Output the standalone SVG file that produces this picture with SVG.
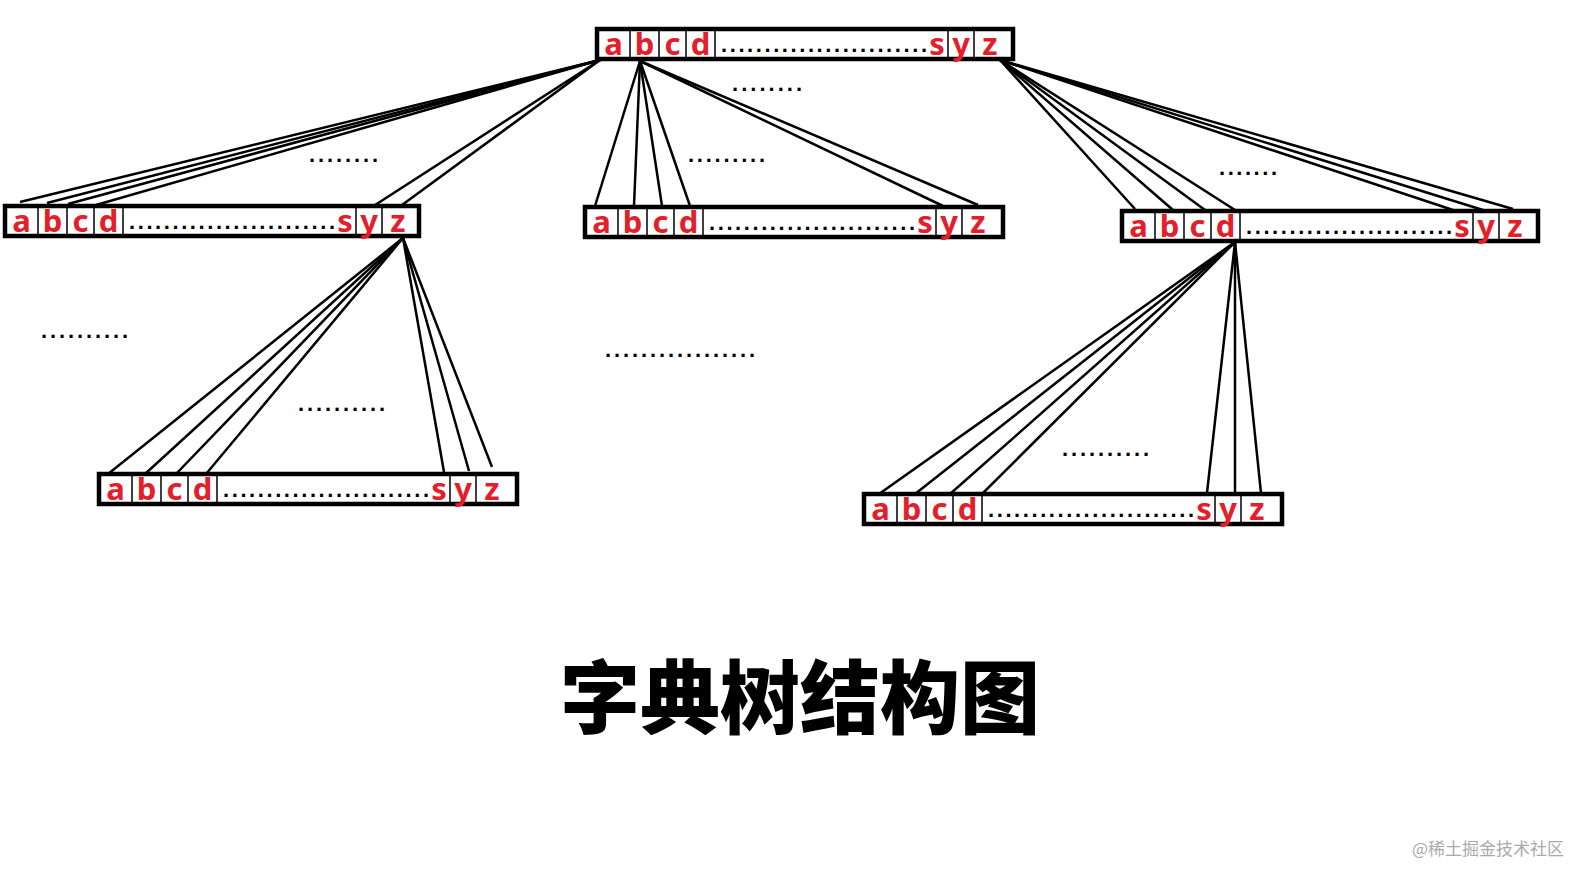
<svg xmlns="http://www.w3.org/2000/svg" width="1596" height="883" viewBox="0 0 1596 883">
<style>
.box{fill:#fff;stroke:#000;stroke-width:4.5}
.div{stroke:#000;stroke-width:1.5;fill:none}
.l{font-family:"Noto Sans","DejaVu Sans",sans-serif;font-weight:bold;font-size:31px;fill:#e3202a;text-anchor:middle}
.d{font-family:"Liberation Sans",sans-serif;font-weight:bold;font-size:22px;fill:#000}
.e line{stroke:#000;stroke-width:2.5}
.title{font-family:"Noto Sans CJK SC",sans-serif;font-weight:900;font-size:80px;fill:#000;text-anchor:middle}
.wm{font-family:"Noto Sans CJK SC",sans-serif;font-size:17px;fill:#aaa}
</style>
<rect width="1596" height="883" fill="#fff"/>
<g class="e" id="edges">
<line x1="600" y1="60" x2="20" y2="202"/><line x1="600" y1="60" x2="47" y2="203"/><line x1="600" y1="60" x2="68" y2="204"/><line x1="600" y1="60" x2="96" y2="205"/>
<line x1="600" y1="60" x2="372" y2="207"/><line x1="600" y1="60" x2="402" y2="205"/>
<line x1="640" y1="61" x2="595" y2="206"/><line x1="640" y1="61" x2="634" y2="206"/><line x1="640" y1="61" x2="662" y2="206"/><line x1="640" y1="61" x2="690" y2="206"/>
<line x1="640" y1="61" x2="943" y2="206"/><line x1="640" y1="61" x2="978" y2="205"/>
<line x1="1000" y1="60" x2="1135" y2="209"/><line x1="1000" y1="60" x2="1173" y2="210"/><line x1="1000" y1="60" x2="1205" y2="210"/><line x1="1000" y1="60" x2="1235" y2="210"/>
<line x1="1000" y1="60" x2="1453" y2="210"/><line x1="1000" y1="60" x2="1483" y2="210"/><line x1="1000" y1="60" x2="1513" y2="209"/>
<line x1="403" y1="238" x2="108" y2="474"/><line x1="403" y1="238" x2="145" y2="474"/><line x1="403" y1="238" x2="176" y2="474"/><line x1="403" y1="238" x2="206" y2="474"/>
<line x1="403" y1="238" x2="444" y2="472"/><line x1="403" y1="238" x2="469" y2="471"/><line x1="403" y1="238" x2="492" y2="467"/>
<line x1="1235" y1="242" x2="879" y2="494"/><line x1="1235" y1="242" x2="915" y2="494"/><line x1="1235" y1="242" x2="950" y2="494"/><line x1="1235" y1="242" x2="982" y2="494"/>
<line x1="1235" y1="242" x2="1207" y2="493"/><line x1="1235" y1="242" x2="1235" y2="493"/><line x1="1235" y1="242" x2="1261" y2="493"/>
</g>
<g id="n-top" transform="translate(597,29)"><rect class="box" width="416" height="30"/><path class="div" d="M33,0V30M62,0V30M89,0V30M118,0V30M351,0V30M377,0V30"/><text class="l" x="16.5" y="26">a</text><text class="l" x="47.5" y="26">b</text><text class="l" x="75.5" y="26">c</text><text class="l" x="103.5" y="26">d</text><text class="d" x="124" y="23" textLength="206" lengthAdjust="spacing">........................</text><text class="l" x="340" y="26">s</text><text class="l" x="364" y="26">y</text><text class="l" x="393" y="26">z</text></g>
<g id="n-l1" transform="translate(5,206)"><rect class="box" width="414" height="30"/><path class="div" d="M33,0V30M62,0V30M89,0V30M118,0V30M351,0V30M377,0V30"/><text class="l" x="16.5" y="26">a</text><text class="l" x="47.5" y="26">b</text><text class="l" x="75.5" y="26">c</text><text class="l" x="103.5" y="26">d</text><text class="d" x="124" y="23" textLength="206" lengthAdjust="spacing">........................</text><text class="l" x="340" y="26">s</text><text class="l" x="364" y="26">y</text><text class="l" x="393" y="26">z</text></g>
<g id="n-m1" transform="translate(585,207)"><rect class="box" width="418" height="30"/><path class="div" d="M33,0V30M62,0V30M89,0V30M118,0V30M351,0V30M377,0V30"/><text class="l" x="16.5" y="26">a</text><text class="l" x="47.5" y="26">b</text><text class="l" x="75.5" y="26">c</text><text class="l" x="103.5" y="26">d</text><text class="d" x="124" y="23" textLength="206" lengthAdjust="spacing">........................</text><text class="l" x="340" y="26">s</text><text class="l" x="364" y="26">y</text><text class="l" x="393" y="26">z</text></g>
<g id="n-r1" transform="translate(1122,211)"><rect class="box" width="416" height="30"/><path class="div" d="M33,0V30M62,0V30M89,0V30M118,0V30M351,0V30M377,0V30"/><text class="l" x="16.5" y="26">a</text><text class="l" x="47.5" y="26">b</text><text class="l" x="75.5" y="26">c</text><text class="l" x="103.5" y="26">d</text><text class="d" x="124" y="23" textLength="206" lengthAdjust="spacing">........................</text><text class="l" x="340" y="26">s</text><text class="l" x="364" y="26">y</text><text class="l" x="393" y="26">z</text></g>
<g id="n-b1" transform="translate(99,474)"><rect class="box" width="418" height="30"/><path class="div" d="M33,0V30M62,0V30M89,0V30M118,0V30M351,0V30M377,0V30"/><text class="l" x="16.5" y="26">a</text><text class="l" x="47.5" y="26">b</text><text class="l" x="75.5" y="26">c</text><text class="l" x="103.5" y="26">d</text><text class="d" x="124" y="23" textLength="206" lengthAdjust="spacing">........................</text><text class="l" x="340" y="26">s</text><text class="l" x="364" y="26">y</text><text class="l" x="393" y="26">z</text></g>
<g id="n-b2" transform="translate(864,494)"><rect class="box" width="418" height="30"/><path class="div" d="M33,0V30M62,0V30M89,0V30M118,0V30M351,0V30M377,0V30"/><text class="l" x="16.5" y="26">a</text><text class="l" x="47.5" y="26">b</text><text class="l" x="75.5" y="26">c</text><text class="l" x="103.5" y="26">d</text><text class="d" x="124" y="23" textLength="206" lengthAdjust="spacing">........................</text><text class="l" x="340" y="26">s</text><text class="l" x="364" y="26">y</text><text class="l" x="393" y="26">z</text></g>
<g id="ellipses">
<text class="d" x="309" y="162" textLength="69" lengthAdjust="spacing">........</text>
<text class="d" x="732" y="91" textLength="70" lengthAdjust="spacing">........</text>
<text class="d" x="688" y="162" textLength="77" lengthAdjust="spacing">.........</text>
<text class="d" x="1219" y="175" textLength="58" lengthAdjust="spacing">.......</text>
<text class="d" x="41" y="338" textLength="87" lengthAdjust="spacing">..........</text>
<text class="d" x="298" y="411" textLength="87" lengthAdjust="spacing">..........</text>
<text class="d" x="605" y="357" textLength="150" lengthAdjust="spacing">.................</text>
<text class="d" x="1062" y="456" textLength="87" lengthAdjust="spacing">..........</text>
</g>
<text class="title" x="800" y="727">字典树结构图</text>
<text class="wm" x="1412" y="855">@稀土掘金技术社区</text>
</svg>
